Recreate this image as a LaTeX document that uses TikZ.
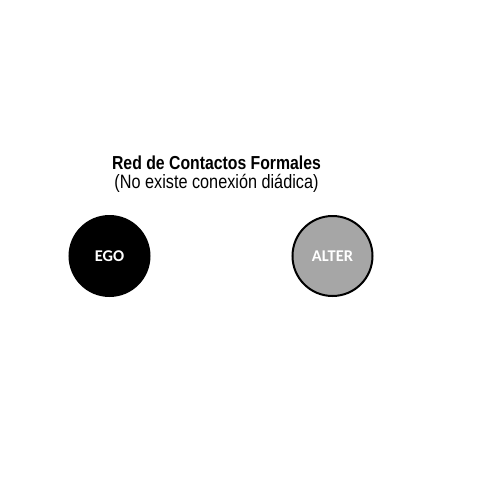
\documentclass[tikz,border=0pt]{standalone}
\usepackage{fontspec}
\setmainfont{Liberation Sans}
\newfontfamily\narrowfont[FakeStretch=0.84]{Liberation Sans}
\newfontfamily\calfont{Carlito}
\definecolor{altergray}{RGB}{166,166,166}
\begin{document}
\begin{tikzpicture}[x=0.75pt,y=-0.75pt,
  actor/.style={circle,minimum size=80*0.75pt,inner sep=0pt,line width=1.5pt,
    font=\calfont\bfseries\fontsize{12.3}{14}\selectfont,text=white},
  titletext/.style={font=\narrowfont,align=center,inner sep=0pt}]
\useasboundingbox (0,0) rectangle (480,479);
\node[titletext,anchor=base] (t1) at (216.5,169) {\fontsize{14.1}{16}\selectfont\bfseries Red de Contactos Formales};
\node[titletext,anchor=base] (t2) at (216.5,188) {\fontsize{14.5}{16}\selectfont(No existe conexión diádica)};
\node[actor,fill=black,draw=black] (ego) at (109.5,256) {EGO};
\node[actor,fill=altergray,draw=black] (alter) at (332.5,256) {ALTER};
\end{tikzpicture}
\end{document}
